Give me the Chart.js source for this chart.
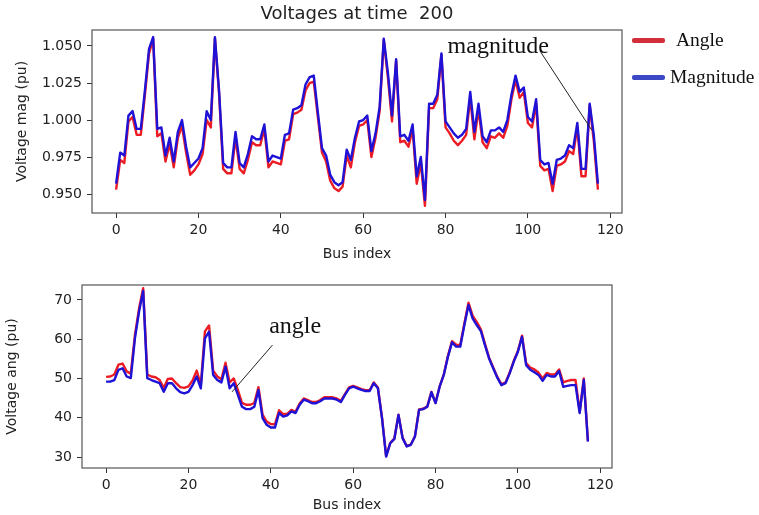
<!DOCTYPE html>
<html>
<head>
<meta charset="utf-8">
<script src="https://cdn.jsdelivr.net/npm/chart.js@4.4.1/dist/chart.umd.min.js"></script>
<style>
  html, body { margin: 0; padding: 0; background: #fff; }
  body { width: 759px; height: 515px; position: relative; overflow: hidden; }
  canvas { position: absolute; left: 0; }
  #magChart { top: 0; }
  #angChart { top: 265px; }
  .lg { position: absolute; left: 632px; height: 24px; display: flex; align-items: center;
        font-family: 'Liberation Serif', 'Times New Roman', serif; font-size: 19.5px; color: #111; white-space: nowrap; }
  .sw { display: inline-block; width: 33px; height: 5px; border-radius: 2px; }
</style>
</head>
<body>
<canvas id="magChart" width="640" height="265"></canvas>
<canvas id="angChart" width="640" height="250"></canvas>
<div class="lg" style="top:28px"><span class="sw" style="background:#d22e3c;margin-right:11px"></span>Angle</div>
<div class="lg" style="top:65px"><span class="sw" style="background:#3c48c4;margin-right:5px"></span>Magnitude</div>
<script>
// Bus numbering of the 118-bus network
const busIndex = Array.from({ length: 118 }, (_, i) => i);

// Voltage magnitude (pu) per bus
const vmMagnitude = [
  0.957, 0.978, 0.976, 1.003, 1.006, 0.994, 0.994, 1.020, 1.048, 1.056,
  0.994, 0.995, 0.976, 0.988, 0.972, 0.992, 1.000, 0.982, 0.968, 0.971,
  0.974, 0.981, 1.006, 1.000, 1.056, 1.020, 0.971, 0.968, 0.968, 0.992,
  0.971, 0.968, 0.977, 0.989, 0.987, 0.987, 0.997, 0.972, 0.976, 0.975,
  0.974, 0.990, 0.991, 1.007, 1.008, 1.010, 1.024, 1.029, 1.030, 1.005,
  0.981, 0.976, 0.963, 0.958, 0.956, 0.958, 0.980, 0.973, 0.988, 0.999,
  1.000, 1.003, 0.979, 0.991, 1.009, 1.055, 1.032, 1.003, 1.041, 0.989,
  0.990, 0.986, 0.997, 0.962, 0.975, 0.946, 1.011, 1.011, 1.017, 1.045,
  0.999, 0.995, 0.991, 0.988, 0.990, 0.994, 1.019, 0.992, 1.011, 0.989,
  0.985, 0.993, 0.993, 0.995, 0.992, 1.000, 1.017, 1.030, 1.019, 1.022,
  1.002, 0.999, 1.014, 0.973, 0.970, 0.971, 0.957, 0.973, 0.974, 0.976,
  0.983, 0.981, 0.998, 0.967, 0.967, 1.011, 0.990, 0.957
];
const vmAngle = [
  0.953, 0.973, 0.971, 0.999, 1.002, 0.990, 0.990, 1.017, 1.045, 1.055,
  0.989, 0.991, 0.972, 0.984, 0.968, 0.988, 0.996, 0.978, 0.963, 0.966,
  0.970, 0.977, 1.000, 0.995, 1.055, 1.018, 0.967, 0.964, 0.964, 0.988,
  0.967, 0.964, 0.973, 0.985, 0.983, 0.983, 0.994, 0.968, 0.972, 0.971,
  0.970, 0.986, 0.987, 1.004, 1.005, 1.007, 1.020, 1.025, 1.026, 1.002,
  0.978, 0.972, 0.959, 0.954, 0.952, 0.955, 0.976, 0.968, 0.985, 0.996,
  0.997, 1.000, 0.975, 0.988, 1.006, 1.054, 1.029, 0.999, 1.040, 0.985,
  0.986, 0.982, 0.994, 0.957, 0.971, 0.942, 1.008, 1.008, 1.014, 1.044,
  0.995, 0.991, 0.986, 0.983, 0.986, 0.990, 1.015, 0.987, 1.007, 0.985,
  0.981, 0.989, 0.988, 0.991, 0.988, 0.996, 1.014, 1.027, 1.015, 1.019,
  0.998, 0.995, 1.011, 0.969, 0.966, 0.967, 0.952, 0.969, 0.970, 0.972,
  0.979, 0.977, 0.995, 0.962, 0.962, 1.010, 0.986, 0.953
];

// Voltage angle per bus
const vaMagnitude = [
  49.2, 49.2, 49.6, 52.2, 52.6, 50.5, 50.1, 60.2, 67.0, 72.3,
  50.1, 49.6, 49.2, 48.8, 46.6, 48.8, 48.8, 47.5, 46.5, 46.2,
  46.6, 48.3, 50.5, 47.5, 60.2, 61.9, 50.9, 49.6, 49.0, 53.0,
  47.5, 48.8, 45.8, 42.8, 42.2, 42.2, 42.8, 47.1, 39.9, 38.2,
  37.5, 37.5, 41.2, 40.3, 40.6, 41.6, 41.2, 43.3, 44.6, 44.2,
  43.7, 43.7, 44.2, 44.9, 44.9, 44.9, 44.6, 44.0, 45.8, 47.5,
  47.9, 47.5, 47.1, 46.8, 46.8, 48.8, 47.5, 39.9, 30.1, 33.5,
  34.6, 40.7, 34.8, 32.7, 33.1, 35.2, 42.0, 42.2, 42.8, 46.5,
  43.7, 47.9, 50.9, 55.5, 59.2, 58.1, 58.1, 63.6, 68.7, 65.3,
  63.6, 62.1, 58.5, 55.1, 52.6, 50.2, 48.3, 48.8, 51.3, 54.3,
  56.8, 60.6, 53.4, 52.2, 51.6, 50.9, 49.4, 50.9, 50.5, 50.5,
  51.9, 47.9, 48.1, 48.3, 48.3, 41.2, 49.6, 33.9
];
const vaAngle = [
  50.4, 50.5, 51.0, 53.5, 53.8, 51.8, 51.2, 61.0, 67.8, 73.0,
  51.0, 50.5, 50.3, 49.6, 47.6, 49.9, 50.0, 48.8, 47.8, 47.6,
  48.0, 49.5, 52.0, 48.3, 62.0, 63.5, 52.0, 50.5, 49.8, 54.0,
  49.0, 50.0, 47.0, 43.8, 43.3, 43.3, 43.8, 47.8, 40.8, 39.0,
  38.4, 38.3, 41.9, 40.9, 41.0, 42.0, 41.5, 43.6, 44.9, 44.5,
  44.0, 44.0, 44.5, 45.2, 45.2, 45.2, 44.9, 44.3, 46.0, 47.7,
  48.1, 47.7, 47.3, 47.0, 47.0, 49.0, 47.7, 40.0, 30.2, 33.6,
  34.7, 40.8, 34.9, 32.8, 33.2, 35.3, 42.1, 42.3, 42.9, 46.6,
  43.8, 48.0, 51.0, 55.7, 59.5, 58.6, 58.5, 64.0, 69.3, 66.0,
  64.4, 62.5, 58.8, 55.3, 52.8, 50.4, 48.5, 49.0, 51.5, 54.5,
  57.0, 60.9, 53.9, 52.8, 52.3, 51.5, 50.0, 51.4, 51.0, 51.0,
  52.3, 49.0, 49.4, 49.6, 49.6, 41.5, 50.0, 34.2
];

// Axis tick labels
const busTicks = [0, 20, 40, 60, 80, 100, 120];
const vmTicks = [0.950, 0.975, 1.000, 1.025, 1.050];
const vaTicks = [30, 40, 50, 60, 70];

const RED = '#ec1c24';
const BLUE = '#1f12d6';
Chart.defaults.font.family = "'DejaVu Sans', sans-serif";
Chart.defaults.color = '#222';

// Box around the plotting area
const framePlugin = {
  id: 'frame',
  afterDraw(chart) {
    const { ctx, chartArea: a } = chart;
    ctx.save();
    ctx.strokeStyle = '#555';
    ctx.lineWidth = 1.2;
    ctx.strokeRect(a.left, a.top, a.right - a.left, a.bottom - a.top);
    ctx.restore();
  }
};

// Text label with a leader line pointing at the curves
const calloutPlugin = {
  id: 'callout',
  afterDatasetsDraw(chart, args, opts) {
    if (!opts || !opts.text) return;
    const xs = chart.scales.x, ys = chart.scales.y, ctx = chart.ctx;
    ctx.save();
    ctx.strokeStyle = '#222';
    ctx.lineWidth = 1;
    ctx.beginPath();
    ctx.moveTo(xs.getPixelForValue(opts.from[0]), ys.getPixelForValue(opts.from[1]));
    ctx.lineTo(xs.getPixelForValue(opts.to[0]), ys.getPixelForValue(opts.to[1]));
    ctx.stroke();
    ctx.fillStyle = '#111';
    ctx.font = "24px 'Liberation Serif', 'Times New Roman', serif";
    ctx.textAlign = 'left';
    ctx.textBaseline = 'alphabetic';
    ctx.fillText(opts.text, xs.getPixelForValue(opts.at[0]), ys.getPixelForValue(opts.at[1]));
    ctx.restore();
  }
};

function panel(canvasId, cfg) {
  return new Chart(document.getElementById(canvasId), {
    type: 'line',
    data: {
      labels: busIndex,
      datasets: [
        { label: 'Magnitude', data: cfg.blue, borderColor: BLUE, borderWidth: 2.4 },
        { label: 'Angle', data: cfg.red, borderColor: RED, borderWidth: 2.4 }
      ]
    },
    options: {
      responsive: false,
      animation: false,
      devicePixelRatio: 1,
      elements: { point: { radius: 0 }, line: { tension: 0, borderJoinStyle: 'round' } },
      layout: { padding: cfg.padding },
      plugins: {
        legend: { display: false },
        tooltip: { enabled: false },
        title: cfg.title,
        callout: cfg.callout
      },
      scales: {
        x: {
          type: 'linear', min: -5.85, max: 122.85,
          afterBuildTicks: s => { s.ticks = busTicks.map(v => ({ value: v })); },
          afterFit: s => { s.height = cfg.xHeight; },
          ticks: { autoSkip: false, maxRotation: 0, padding: 4, font: { size: 14 }, color: '#222' },
          grid: { drawOnChartArea: false, drawTicks: true, tickLength: 5, tickColor: '#333', tickWidth: 1 },
          border: { display: false },
          title: { display: true, text: 'Bus index', font: { size: 14 }, color: '#222', padding: { top: 0, bottom: cfg.xTitlePad } }
        },
        y: {
          type: 'linear', min: cfg.yMin, max: cfg.yMax,
          afterBuildTicks: s => { s.ticks = cfg.yTicks.map(v => ({ value: v })); },
          afterFit: s => { s.width = cfg.yWidth; },
          ticks: { autoSkip: false, padding: 5, font: { size: 14 }, color: '#222', callback: cfg.yFmt },
          grid: { drawOnChartArea: false, drawTicks: true, tickLength: 5, tickColor: '#333', tickWidth: 1 },
          border: { display: false },
          title: { display: true, text: cfg.yTitle, font: { size: 14 }, color: '#222', padding: { top: cfg.yTitlePad, bottom: 0 } }
        }
      }
    },
    plugins: [framePlugin, calloutPlugin]
  });
}

panel('magChart', {
  blue: vmMagnitude, red: vmAngle,
  padding: { left: 0, right: 18, top: 0, bottom: 0 },
  title: { display: true, text: 'Voltages at time  200', fullSize: false, color: '#222',
           font: { size: 18, weight: 'normal' }, padding: { top: 4, bottom: 4.4 } },
  callout: { text: 'magnitude', at: [80.5, 1.0452], from: [102.9, 1.0468], to: [115.5, 0.9932] },
  xHeight: 52, xTitlePad: 2.6,
  yMin: 0.9372, yMax: 1.0608, yTicks: vmTicks, yWidth: 92, yTitlePad: 13.6,
  yTitle: 'Voltage mag (pu)', yFmt: v => Number(v).toFixed(3)
});

panel('angChart', {
  blue: vaMagnitude, red: vaAngle,
  padding: { left: 0, right: 28, top: 20, bottom: 0 },
  title: { display: false },
  callout: { text: 'angle', at: [39.6, 61.6], from: [40.4, 58.5], to: [30.6, 46.6] },
  xHeight: 47, xTitlePad: 1.6,
  yMin: 27.2, yMax: 73.8, yTicks: vaTicks, yWidth: 82, yTitlePad: 3.6,
  yTitle: 'Voltage ang (pu)', yFmt: v => String(v)
});
</script>
</body>
</html>
